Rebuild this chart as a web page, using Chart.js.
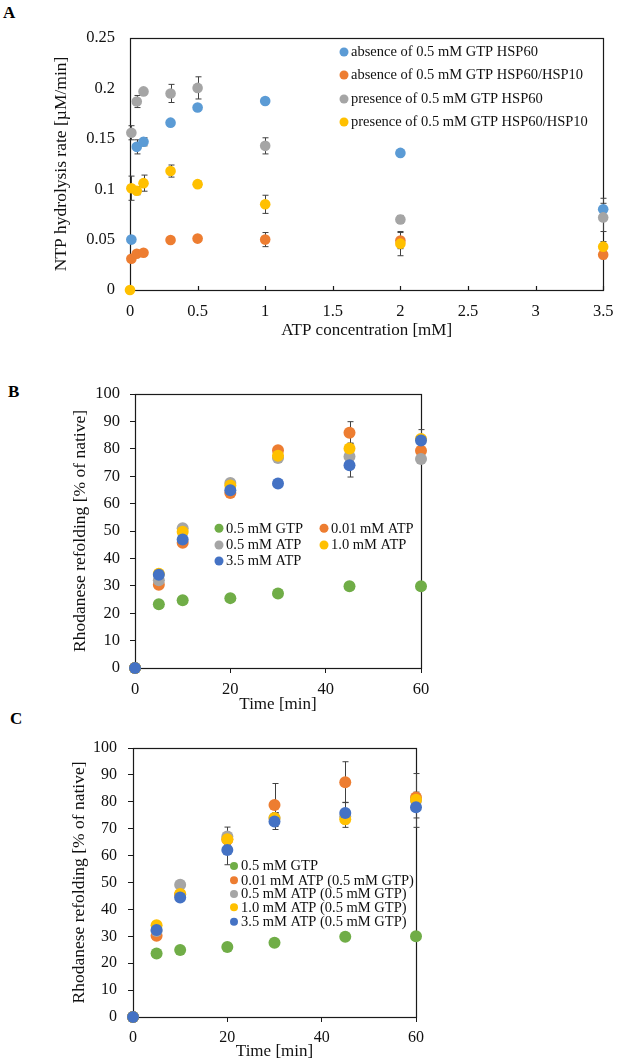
<!DOCTYPE html>
<html>
<head>
<meta charset="utf-8">
<script src="https://cdn.jsdelivr.net/npm/chart.js@4.4.0/dist/chart.umd.min.js"></script>
<style>
  body { margin: 0; background: #fff; width: 625px; height: 1063px; position: relative; overflow: hidden; font-family: 'Liberation Serif', 'Times New Roman', serif; }
  canvas { position: absolute; left: 0; }
  .tag { position: absolute; font-weight: bold; font-size: 17px; color: #000; }
</style>
</head>
<body>
<div class="tag" style="left:3px;top:3px">A</div>
<div class="tag" style="left:8px;top:382px">B</div>
<div class="tag" style="left:10px;top:709px">C</div>
<canvas id="chartA" width="625" height="345" style="top:0"></canvas>
<canvas id="chartB" width="625" height="345" style="top:372px"></canvas>
<canvas id="chartC" width="625" height="349" style="top:714px"></canvas>
<script>
// ---- panel A : NTP hydrolysis rate vs ATP concentration
const atpConc = [0.01, 0.05, 0.1, 0.3, 0.5, 1, 2, 3.5];
const atpConcY = [0, 0.01, 0.05, 0.1, 0.3, 0.5, 1, 2, 3.5];
const absHsp60 = [0.05, 0.142, 0.147, 0.166, 0.181, 0.1875, 0.136, 0.080];
const absHsp60Err = [0, 0.007, 0.004, 0, 0, 0.003, 0, 0.011];
const absHsp6010 = [0.031, 0.036, 0.037, 0.0496, 0.051, 0.050, 0.049, 0.035];
const absHsp6010Err = [0, 0.002, 0.002, 0.002, 0.002, 0.007, 0.008, 0.004];
const presHsp60 = [0.156, 0.187, 0.197, 0.195, 0.2005, 0.143, 0.070, 0.072];
const presHsp60Err = [0.007, 0.006, 0.002, 0.009, 0.011, 0.008, 0.004, 0.014];
const presHsp6010 = [0, 0.101, 0.0985, 0.106, 0.118, 0.105, 0.085, 0.046, 0.043];
const presHsp6010Err = [0, 0.012, 0.004, 0.008, 0.006, 0.003, 0.009, 0.012, 0.005];

// ---- panel B : rhodanese refolding, ATP alone
const timeMin = [0, 5, 10, 20, 30, 45, 60];
const bGtp = [0, 23.3, 24.7, 25.5, 27.2, 29.8, 29.8];
const bGtpErr = [0, 0.5, 0.5, 0.5, 0.5, 0.5, 0.5];
const bAtp001 = [0, 30.4, 45.7, 63.9, 79.5, 85.9, 79.3];
const bAtp001Err = [0, 1, 1, 1.5, 1, 4, 1];
const bAtp05 = [0, 32, 51, 67.5, 76.6, 77.2, 76.3];
const bAtp05Err = [0, 1, 1, 1, 1.5, 2, 1];
const bAtp10 = [0, 34.4, 49.7, 66.6, 77.5, 80.1, 83.6];
const bAtp10Err = [0, 1, 1, 1, 1, 2, 1];
const bAtp35 = [0, 34, 46.9, 64.9, 67.3, 74, 83];
const bAtp35Err = [0, 1, 1, 1, 1, 4.3, 4];

// ---- panel C : rhodanese refolding, ATP with 0.5 mM GTP
const cGtp = [0, 23.6, 24.9, 26, 27.6, 29.8, 30];
const cGtpErr = [0, 0.5, 0.5, 0.5, 0.5, 0.5, 0.5];
const cAtp001 = [0, 30.2, 45.5, 66, 78.8, 87.3, 81.6];
const cAtp001Err = [0, 1, 1, 2, 8, 7.6, 2];
const cAtp05 = [0, 32, 49.2, 67.1, 74, 74.5, 80.5];
const cAtp05Err = [0, 1, 1, 3.5, 2, 2, 10];
const cAtp10 = [0, 34.1, 45.7, 66.1, 74, 73.5, 80.8];
const cAtp10Err = [0, 1, 1, 2, 2, 3, 2];
const cAtp35 = [0, 32.3, 44.4, 62.1, 72.7, 75.8, 78];
const cAtp35Err = [0, 1, 1, 5.5, 3, 4, 4];

const FONT = "'Liberation Serif', 'Times New Roman', serif";
const INK = '#111';
Chart.defaults.font.family = FONT;
Chart.defaults.color = INK;

const pts = (xs, ys) => xs.map((x, i) => ({ x: x, y: ys[i] }));
// spreadsheet style numbers: 0.1 not 0.10, 1 not 1.0
const plain = v => String(+Number(v).toFixed(3));

function series(label, color, xs, ys, errs, r, idx) {
  return {
    label: label,
    data: pts(xs, ys),
    errors: errs,
    backgroundColor: color,
    borderColor: color,
    borderWidth: 0,
    pointRadius: r,
    pointHoverRadius: r,
    clip: false,
    order: -idx   // later series painted on top
  };
}

// frame round the plot area + error bars, under the markers
const framePlugin = {
  id: 'frame',
  beforeDatasetsDraw(chart, args, opts) {
    const ctx = chart.ctx;
    const a = chart.chartArea;
    const xs = chart.scales.x, ys = chart.scales.y;
    ctx.save();
    ctx.strokeStyle = '#1a1a1a';
    ctx.lineWidth = 1.2;
    ctx.strokeRect(Math.round(a.left) + 0.5, Math.round(a.top) + 0.5,
      Math.round(a.right - a.left), Math.round(a.bottom - a.top));
    if (opts.innerTicks) {
      ctx.beginPath();
      xs.ticks.forEach(t => {
        const px = Math.round(xs.getPixelForValue(t.value)) + 0.5;
        ctx.moveTo(px, a.bottom);
        ctx.lineTo(px, a.bottom - 4);
      });
      ctx.stroke();
    }
    ctx.strokeStyle = '#404040';
    ctx.lineWidth = 1;
    chart.data.datasets.forEach(ds => {
      if (!ds.errors) return;
      ds.data.forEach((p, i) => {
        const e = ds.errors[i];
        if (!e) return;
        const x = Math.round(xs.getPixelForValue(p.x)) + 0.5;
        const y1 = ys.getPixelForValue(p.y + e);
        const y2 = ys.getPixelForValue(p.y - e);
        ctx.beginPath();
        ctx.moveTo(x, y1); ctx.lineTo(x, y2);
        ctx.moveTo(x - 3, y1); ctx.lineTo(x + 3, y1);
        ctx.moveTo(x - 3, y2); ctx.lineTo(x + 3, y2);
        ctx.stroke();
      });
    });
    ctx.restore();
  }
};

// legend placed inside the plot, like the original
const legendPlugin = {
  id: 'boxLegend',
  afterDatasetsDraw(chart, args, opts) {
    if (!opts.items) return;
    const ctx = chart.ctx;
    ctx.save();
    ctx.font = opts.size + 'px ' + FONT;
    ctx.textBaseline = 'middle';
    opts.items.forEach(it => {
      const ds = chart.data.datasets[it[0]];
      ctx.beginPath();
      ctx.arc(it[1], it[2], opts.radius, 0, Math.PI * 2);
      ctx.fillStyle = ds.backgroundColor;
      ctx.fill();
      ctx.fillStyle = INK;
      ctx.fillText(ds.label, it[1] + opts.gap, it[2] + 0.5);
    });
    ctx.restore();
  }
};

function makeChart(id, cfg) {
  return new Chart(document.getElementById(id), {
    type: 'scatter',
    data: { datasets: cfg.datasets },
    plugins: [framePlugin, legendPlugin],
    options: {
      responsive: false,
      animation: false,
      devicePixelRatio: 1,
      layout: { padding: cfg.padding },
      plugins: {
        legend: { display: false },
        tooltip: { enabled: false },
        frame: { innerTicks: cfg.innerTicks },
        boxLegend: cfg.legend
      },
      scales: {
        x: {
          type: 'linear',
          min: cfg.xMin, max: cfg.xMax,
          border: { display: false },
          grid: cfg.outTicks
            ? { drawOnChartArea: false, drawTicks: true, tickLength: 5, color: '#1a1a1a' }
            : { display: false, drawTicks: false },
          ticks: { stepSize: cfg.xStep, padding: cfg.xPad, font: { size: cfg.tickSize }, color: INK, maxRotation: 0, callback: plain },
          title: { display: true, text: cfg.xTitle, font: { size: 17 }, color: INK, padding: { top: 0, bottom: cfg.xTitlePad } },
          afterFit: s => { s.height = cfg.xHeight; }
        },
        y: {
          type: 'linear',
          min: cfg.yMin, max: cfg.yMax,
          border: { display: false },
          grid: cfg.outTicks
            ? { drawOnChartArea: false, drawTicks: true, tickLength: 5, color: '#1a1a1a' }
            : { display: false, drawTicks: false },
          ticks: { stepSize: cfg.yStep, padding: cfg.yPad, font: { size: cfg.tickSize }, color: INK, callback: plain },
          title: { display: true, text: cfg.yTitle, font: { size: 17.5 }, color: INK, padding: { top: cfg.yTitlePad, bottom: 0 } },
          afterFit: s => { s.width = cfg.yWidth; }
        }
      }
    }
  });
}

// colours of the original spreadsheet palette
const cBlueL = '#5B9BD5', cOrange = '#ED7D31', cGray = '#A5A5A5', cYellow = '#FFC000', cGreen = '#70AD47', cBlue = '#4472C4';

makeChart('chartA', {
  datasets: [
    series('absence of 0.5 mM GTP HSP60', cBlueL, atpConc, absHsp60, absHsp60Err, 5.3, 0),
    series('absence of 0.5 mM GTP HSP60/HSP10', cOrange, atpConc, absHsp6010, absHsp6010Err, 5.3, 1),
    series('presence of 0.5 mM GTP HSP60', cGray, atpConc, presHsp60, presHsp60Err, 5.3, 2),
    series('presence of 0.5 mM GTP HSP60/HSP10', cYellow, atpConcY, presHsp6010, presHsp6010Err, 5.3, 3)
  ],
  padding: { top: 38, right: 13, left: 0, bottom: 0 },
  xMin: 0, xMax: 3.5, xStep: 0.5, yMin: 0, yMax: 0.25, yStep: 0.05,
  tickSize: 16.5, xPad: 11.5, yPad: 15, outTicks: false, innerTicks: true,
  xTitle: 'ATP concentration [mM]', xTitlePad: 4, xHeight: 55,
  yTitle: 'NTP hydrolysis rate [µM/min]', yTitlePad: 50.5, yWidth: 130,
  legend: { size: 14.5, radius: 4.5, gap: 7, items: [[0, 344, 52], [1, 344, 75], [2, 344, 99], [3, 344, 122]] }
});

makeChart('chartB', {
  datasets: [
    series('0.5 mM GTP', cGreen, timeMin, bGtp, bGtpErr, 6, 0),
    series('0.01 mM ATP', cOrange, timeMin, bAtp001, bAtp001Err, 6, 1),
    series('0.5 mM ATP', cGray, timeMin, bAtp05, bAtp05Err, 6, 2),
    series('1.0 mM ATP', cYellow, timeMin, bAtp10, bAtp10Err, 6, 3),
    series('3.5 mM ATP', cBlue, timeMin, bAtp35, bAtp35Err, 6, 4)
  ],
  padding: { top: 22, right: 204, left: 0, bottom: 0 },
  xMin: 0, xMax: 60, xStep: 20, yMin: 0, yMax: 100, yStep: 10,
  tickSize: 16.5, xPad: 7, yPad: 10, outTicks: true, innerTicks: false,
  xTitle: 'Time [min]', xTitlePad: 1.8, xHeight: 49,
  yTitle: 'Rhodanese refolding [% of native]', yTitlePad: 69.5, yWidth: 135,
  legend: { size: 14.5, radius: 4.5, gap: 7, items: [[0, 219, 156.3], [1, 324, 156.3], [2, 219, 173], [3, 324, 173], [4, 219, 189]] }
});

makeChart('chartC', {
  datasets: [
    series('0.5 mM GTP', cGreen, timeMin, cGtp, cGtpErr, 6, 0),
    series('0.01 mM ATP (0.5 mM GTP)', cOrange, timeMin, cAtp001, cAtp001Err, 6, 1),
    series('0.5 mM ATP (0.5 mM GTP)', cGray, timeMin, cAtp05, cAtp05Err, 6, 2),
    series('1.0 mM ATP (0.5 mM GTP)', cYellow, timeMin, cAtp10, cAtp10Err, 6, 3),
    series('3.5 mM ATP (0.5 mM GTP)', cBlue, timeMin, cAtp35, cAtp35Err, 6, 4)
  ],
  padding: { top: 34, right: 209, left: 0, bottom: 0 },
  xMin: 0, xMax: 60, xStep: 20, yMin: 0, yMax: 100, yStep: 10,
  tickSize: 16, xPad: 6.4, yPad: 11, outTicks: true, innerTicks: false,
  xTitle: 'Time [min]', xTitlePad: 0.8, xHeight: 46,
  yTitle: 'Rhodanese refolding [% of native]', yTitlePad: 69, yWidth: 133,
  legend: { size: 14.5, radius: 4, gap: 7, items: [[0, 234, 152], [1, 234, 166.3], [2, 234, 180], [3, 234, 193.3], [4, 234, 207.7]] }
});
</script>
</body>
</html>
